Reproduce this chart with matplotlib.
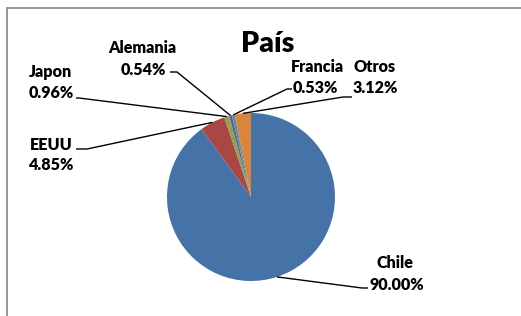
import numpy as np
import matplotlib
matplotlib.use("Agg")
import matplotlib.pyplot as plt
from matplotlib.patches import Rectangle

title = "País"
countries = ["Chile", "EEUU", "Japon", "Alemania", "Francia", "Otros"]
shares = [90.00, 4.85, 0.96, 0.54, 0.53, 3.12]
colors = ["#4572A7", "#AA4643", "#89A54E", "#71588F", "#4198AF", "#DB843D"]

W, H = 521, 316
fig = plt.figure(figsize=(W / 100, H / 100), dpi=100)
ax = fig.add_axes([0, 0, 1, 1])

# frame of the chart area (extends past right/bottom edges)
ax.add_patch(Rectangle((6.5, -20), W + 40, H - 7.5 + 20, fill=False,
                       edgecolor="#8c8c8c", linewidth=1.3))

cx, cy, R = 251, H - 197, 84
wedges, _ = ax.pie(shares, colors=colors, startangle=90, counterclock=False,
                   center=(cx, cy), radius=R, frame=True,
                   wedgeprops=dict(linewidth=0))
ax.set_xlim(0, W)
ax.set_ylim(0, H)
ax.set_aspect("equal")
ax.axis("off")

FAM = ["Lato", "DejaVu Sans"]
fnt = dict(family=FAM, fontweight="heavy", fontsize=11.6, color="black")
ax.text(267.5, H - 52, title, ha="center", va="baseline",
        family=FAM, fontweight="heavy", fontsize=20.5)

# label layout: name x, name baseline, value x, value baseline, line start x, line y, elbow x
layout = {
    "Chile": (395, 268, 396.5, 290, 368, 288, 362),
    "EEUU": (51.5, 150, 50.5, 170, 76, 149, 87),
    "Japon": (50.5, 77, 51, 98, 76, 98, 79),
    "Alemania": (142.5, 53, 143.5, 75, 170, 72, 177),
    "Francia": (317, 72, 315.5, 93, 292, 89, 287),
    "Otros": (374.5, 72, 375, 93, 352, 97, 343),
}
for w, name, val in zip(wedges, countries, shares):
    nx, ny, vx, vy, lx0, ly0, lx1 = layout[name]
    ax.text(nx, H - ny, name, ha="center", va="baseline", **fnt)
    ax.text(vx, H - vy, f"{val:.2f}%", ha="center", va="baseline", **fnt)
    mid = np.deg2rad((w.theta1 + w.theta2) / 2)
    ex, ey = cx + R * np.cos(mid), cy + R * np.sin(mid)
    ax.plot([lx0, lx1, ex], [H - ly0, H - ly0, ey], color="black", lw=1.0,
            solid_capstyle="butt")

fig.savefig("out.png", dpi=100, facecolor="white")
